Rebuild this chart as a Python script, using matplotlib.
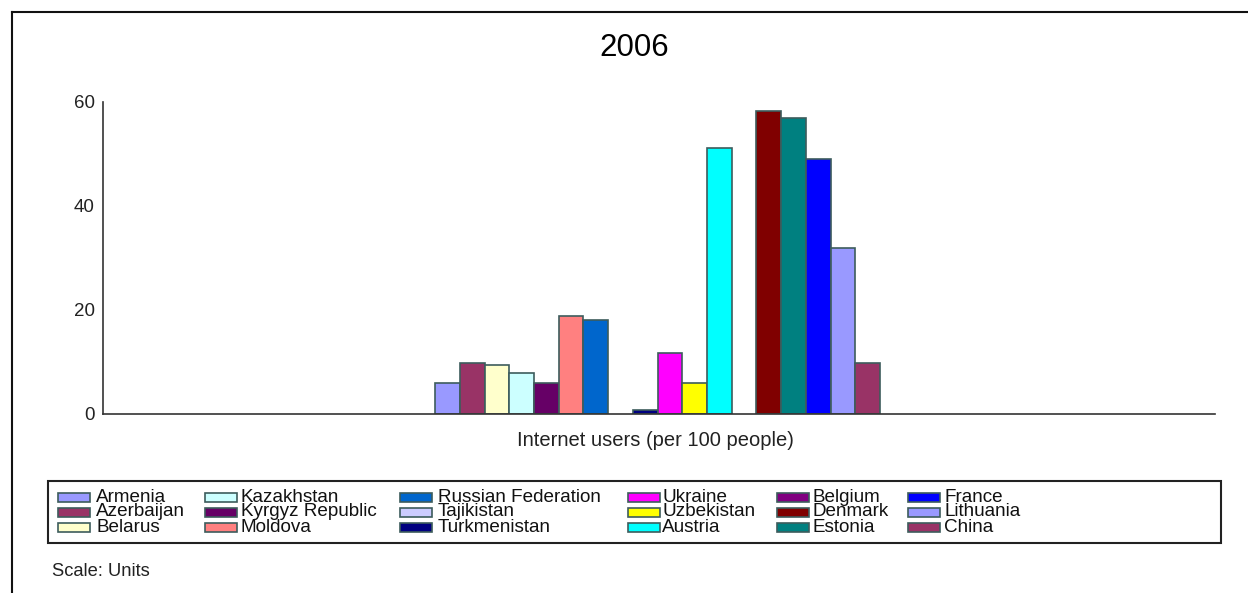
import matplotlib
matplotlib.use("Agg")
import matplotlib.pyplot as plt
from matplotlib.patches import Rectangle
from matplotlib.lines import Line2D
import numpy as np

plt.rcParams['font.family'] = ['Liberation Sans', 'DejaVu Sans']

title = "2006"
indicator = "Internet users (per 100 people)"
countries = ["Armenia", "Azerbaijan", "Belarus", "Kazakhstan", "Kyrgyz Republic",
             "Moldova", "Russian Federation", "Tajikistan", "Turkmenistan", "Ukraine",
             "Uzbekistan", "Austria", "Belgium", "Denmark", "Estonia", "France",
             "Lithuania", "China"]
values = [6.0, 9.9, 9.5, 7.9, 5.9, 18.9, 18.0, np.nan, 0.7, 11.7,
          5.9, 51.1, np.nan, 58.2, 56.9, 49.1, 31.9, 9.8]
colors = ["#9999FF", "#993366", "#FFFFCC", "#CCFFFF", "#660066", "#FF8080",
          "#0066CC", "#CCCCFF", "#000080", "#FF00FF", "#FFFF00", "#00FFFF",
          "#800080", "#800000", "#008080", "#0000FF", "#9999FF", "#993366"]
yticks = [0, 20, 40, 60]

W, H = 1248, 593
fig = plt.figure(figsize=(W / 100, H / 100), dpi=100)

def fx(px):
    return px / W

def fy(py):
    return 1 - py / H

ax = fig.add_axes([fx(103), fy(414), fx(1215) - fx(103), fy(102) - fy(414)])
n = len(countries)
group = 0.4
w = group / n
xs = [(i - (n - 1) / 2) * w - 0.0013 for i in range(n)]
edge = "#3d5c5c"
ax.bar(xs, values, width=w, color=colors, edgecolor=edge, linewidth=1.2, zorder=2)
ax.set_xlim(-0.5, 0.5)
ax.set_ylim(0, 60)
ax.set_yticks(yticks)
ax.set_yticklabels([str(t) for t in yticks], fontsize=13.5, color="#222222")
ax.tick_params(axis='y', length=0, pad=6)
ax.set_xticks([])
for s in ["top", "right"]:
    ax.spines[s].set_visible(False)
for s in ["left", "bottom"]:
    ax.spines[s].set_color("#333333")
    ax.spines[s].set_linewidth(1.2)

fig.text(fx(634), fy(48), title, fontsize=22.5, ha="center", va="center", color="#000000")
fig.text(fx(655), fy(440), indicator, fontsize=14.5, ha="center", va="center", color="#222222")

# legend box
lx0, ly0, lx1, ly1 = 48, 481, 1221, 543
fig.patches.append(Rectangle((fx(lx0), fy(ly1)), fx(lx1) - fx(lx0), fy(ly0) - fy(ly1),
                             transform=fig.transFigure, fill=False,
                             edgecolor="#222222", linewidth=1.5))
col_patch_x = [58, 205, 400, 628, 777, 908]
col_text_x = [96, 241, 438, 662, 812, 944]
row_y = [497, 512, 527]
for i, (name, c) in enumerate(zip(countries, colors)):
    col, row = divmod(i, 3)
    px, py = col_patch_x[col], row_y[row]
    fig.patches.append(Rectangle((fx(px), fy(py + 4.5)), fx(32), 9 / H,
                                 transform=fig.transFigure, facecolor=c,
                                 edgecolor=edge, linewidth=1.2))
    fig.text(fx(col_text_x[col]), fy(py), name, fontsize=13.6, ha="left",
             va="center", color="#111111")

fig.text(fx(52), fy(572), "Scale: Units", fontsize=13.2, ha="left", va="center",
         color="#222222")

# outer frame lines (top and left)
fig.add_artist(Line2D([fx(12), 1], [fy(12), fy(12)], transform=fig.transFigure,
                      color="#111111", linewidth=1.5))
fig.add_artist(Line2D([fx(12), fx(12)], [0, fy(12)], transform=fig.transFigure,
                      color="#111111", linewidth=1.5))

fig.savefig("out.png", dpi=100, facecolor="white")
